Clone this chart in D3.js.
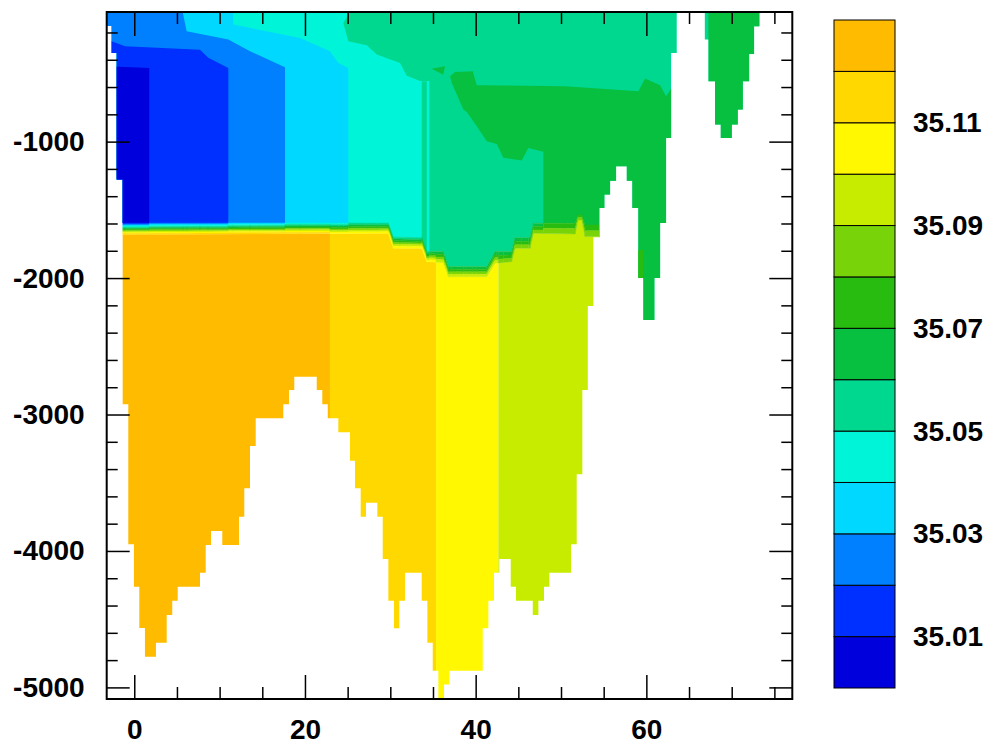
<!DOCTYPE html>
<html>
<head>
<meta charset="utf-8">
<script src="https://cdn.jsdelivr.net/npm/d3@7"></script>
<style>
body { margin: 0; background: #fff; }
text { font-family: "Liberation Sans", Arial, sans-serif; font-weight: bold; font-size: 28px; fill: #000; }
</style>
</head>
<body>
<div id="chartDiv"></div>
<script>

// salinity classes (colour bar)
var salinityLevels = [35.00, 35.01, 35.02, 35.03, 35.04, 35.05, 35.06, 35.07, 35.08, 35.09, 35.10, 35.11, 35.12, 35.13];
var bandColors = ["#0000DD", "#0030FF", "#0080FF", "#00D8FF", "#00F5D8", "#00D890", "#08C040",
                  "#28BC10", "#78D408", "#C8EC00", "#FFF800", "#FFD800", "#FFBB00"];
var colorbarTicks = [35.01, 35.03, 35.05, 35.07, 35.09, 35.11];
var xTicks = [0, 20, 40, 60];
var yTicks = [-1000, -2000, -3000, -4000, -5000];

// sea floor: [x where step starts, bottom depth] (null = no water)
var seafloor = [
  [-3.23, -152], [-2.65, -350], [-2.06, -1278], [-1.36, -2925], [-0.70, -3950], [-0.04, -4262],
  [0.59, -4565], [1.25, -4776], [2.54, -4673], [3.80, -4470], [4.45, -4365], [5.09, -4262],
  [7.70, -4160], [8.37, -3957], [8.99, -3854], [10.31, -3957], [12.27, -3750], [12.89, -3541],
  [13.56, -3231], [14.23, -3028], [17.46, -2925], [18.13, -2820], [18.75, -2723], [21.38, -2820],
  [22.03, -2925], [22.67, -3028], [23.91, -3130], [25.28, -3339], [25.86, -3541], [26.53, -3750],
  [27.15, -3646], [28.48, -3750], [29.11, -4059], [29.77, -4365], [30.43, -4567], [31.06, -4365],
  [31.72, -4160], [33.68, -4365], [34.34, -4673], [34.97, -4878], [35.63, -5085], [36.29, -4978],
  [36.92, -4878], [40.83, -4567], [41.49, -4365], [42.15, -4160], [42.78, -4059], [44.11, -4262],
  [44.73, -4365], [46.69, -4470], [47.35, -4365], [48.01, -4262], [48.63, -4160], [51.18, -3951],
  [51.84, -3438], [52.50, -2820], [53.14, -2204], [53.79, -1700], [54.49, -1486], [55.08, -1388],
  [55.75, -1286], [56.45, -1180], [57.71, -1286], [58.36, -1486], [59.06, -1999], [59.65, -2307],
  [60.94, -1999], [61.61, -1596], [62.31, -973], [62.90, -350], [63.56, null], [66.85, -252],
  [67.27, -557], [68.05, -875], [68.72, -973], [70.01, -875], [70.71, -765], [71.30, -557],
  [72.04, -357], [72.62, -154], [73.24, null]
];

// interface between upper and deep water: [x, bottom of upper layer, top of deep layer]
var layerInterface = [
  [-3.23, -1596, -1682], [29.77, -1596, -1672], [30.35, -1699, -1781], [33.68, -1704, -1781],
  [34.27, -1806, -1880], [36.21, -1806, -1886], [36.80, -1916, -1990], [41.30, -1916, -1990],
  [42.27, -1806, -1891], [44.21, -1806, -1880], [44.61, -1704, -1781], [46.37, -1704, -1781],
  [46.76, -1598, -1672], [51.65, -1598, -1677], [52.00, -1537, -1574], [52.43, -1537, -1574],
  [52.82, -1611, -1696], [54.45, -1611, -1696], [54.50, -5085, -5085], [77.10, -5085, -5085]
];

// deep layer: [x0, x1, salinity]
var deepStrips = [
  [-3.23, 22.93, 35.125], [22.93, 35.36, 35.115], [35.36, 42.66, 35.105], [42.66, 60.0, 35.095]
];

// upper layer: water left of/below each front line has the given salinity
var upperBase = 35.055;
var upperFronts = [
  {salinity: 35.045, line: [[25.28, -50], [24.49, -130], [25.08, -264], [27.24, -293], [28.41, -362], [31.14, -423], [31.92, -518], [33.48, -555], [34.57, -555], [34.57, -5085]]},
  {salinity: 35.035, line: [[11.60, -50], [11.60, -142], [19.42, -240], [22.93, -337], [23.91, -423], [25.08, -460], [25.08, -5085]]},
  {salinity: 35.025, line: [[5.67, -50], [6.14, -191], [11.02, -252], [13.56, -337], [17.66, -455], [17.66, -5085]]},
  {salinity: 35.015, line: [[-3.23, -250], [-2.65, -264], [-1.09, -301], [7.70, -326], [8.67, -386], [11.02, -460], [11.02, -5085]]},
  {salinity: 35.005, line: [[-3.23, -447], [1.76, -460], [1.76, -5085]]}
];

// upper layer patches
var upperPatches = [
  {salinity: 35.065, outline: [[37.00, -521], [37.58, -489], [39.66, -484], [40.13, -586], [50.47, -594], [59.06, -630], [59.85, -538], [61.61, -586], [62.31, -667], [62.90, -611], [64.0, -611], [64.0, -5085], [47.93, -5085], [47.93, -1075], [46.17, -1046], [45.40, -1139], [43.24, -1119], [42.47, -1017], [41.30, -997], [40.13, -887], [38.95, -782], [38.56, -765], [37.20, -570]]},
  {salinity: 35.065, outline: [[34.85, -465], [36.41, -447], [36.21, -509]]},
  {salinity: 35.065, outline: [[67.27, -50], [74.0, -50], [74.0, -5085], [67.27, -5085]]},
  {salinity: 35.075, outline: [[58.99, -1794], [59.65, -1794], [59.65, -2010], [58.99, -2010]]},
  {salinity: 35.055, outline: [[33.68, -557], [34.27, -557], [34.27, -5085], [33.68, -5085]]}
];

var svg = d3.select("#chartDiv").append("svg").attr("width", 988).attr("height", 744);

var plot = {left: 106.7, right: 792.3, top: 12, bottom: 699};
var xMin = -3.23, xMax = 77.1, dTop = -50, dBottom = -5085;

var x_scale = d3.scaleLinear().domain([xMin, xMax]).range([plot.left, plot.right]);
var y_scale = d3.scaleLinear().domain([dBottom, dTop]).range([plot.bottom, plot.top]);
var colour = d3.scaleThreshold().domain(salinityLevels.slice(1, -1)).range(bandColors);
var thresholds = salinityLevels.slice(1, -1);

var line = d3.line().x(function(d){ return x_scale(d[0]); }).y(function(d){ return y_scale(d[1]); });
function polyPath(pts){ return line(pts) + "Z"; }

// interface as piecewise linear functions
var upperBottom = d3.scaleLinear().domain(layerInterface.map(function(d){ return d[0]; })).range(layerInterface.map(function(d){ return d[1]; }));
var deepTop = d3.scaleLinear().domain(layerInterface.map(function(d){ return d[0]; })).range(layerInterface.map(function(d){ return d[2]; }));

// clip paths
var defs = svg.append("defs");
var waterPts = [[xMin, dTop]];
seafloor.forEach(function(d, i){
  var x1 = i + 1 < seafloor.length ? seafloor[i + 1][0] : xMax;
  var dep = d[1] === null ? dTop : d[1];
  waterPts.push([d[0], dep], [x1, dep]);
});
waterPts.push([xMax, dTop]);
defs.append("clipPath").attr("id", "water").append("path").attr("d", polyPath(waterPts));

var upperPts = [[xMin, dTop]].concat(layerInterface.map(function(d){ return [d[0], d[1]]; }), [[xMax, dTop]]);
defs.append("clipPath").attr("id", "upper").append("path").attr("d", polyPath(upperPts));
var deepPts = [[xMin, dBottom]].concat(layerInterface.map(function(d){ return [d[0], d[2]]; }), [[xMax, dBottom]]);
defs.append("clipPath").attr("id", "deep").append("path").attr("d", polyPath(deepPts));

var water = svg.append("g").attr("clip-path", "url(#water)");

// upper layer
var upperG = water.append("g").attr("clip-path", "url(#upper)");
var upperShapes = [{salinity: upperBase, outline: [[xMin, dTop], [xMax, dTop], [xMax, dBottom], [xMin, dBottom]]}];
upperFronts.forEach(function(f){
  var last = f.line[f.line.length - 1];
  upperShapes.push({salinity: f.salinity, outline: [[xMin, f.line[0][1]]].concat(f.line, [[xMin, last[1]]])});
});
upperPatches.forEach(function(p){ upperShapes.push(p); });

upperG.selectAll("path").data(upperShapes).enter().append("path")
  .attr("d", function(d){ return polyPath(d.outline); })
  .attr("fill", function(d){ return colour(d.salinity); });

// deep layer
var deepG = water.append("g").attr("clip-path", "url(#deep)");
deepG.selectAll("rect").data(deepStrips).enter().append("rect")
  .attr("x", function(d){ return x_scale(d[0]); })
  .attr("width", function(d){ return x_scale(d[1]) - x_scale(d[0]); })
  .attr("y", y_scale(dTop))
  .attr("height", y_scale(dBottom) - y_scale(dTop))
  .attr("fill", function(d){ return colour(d[2]); });

// thin transition bands between the two layers
function upperSalinityAt(x, dep){
  var s = upperBase;
  upperShapes.forEach(function(sh){ if (d3.polygonContains(sh.outline, [x, dep])) s = sh.salinity; });
  return s;
}
function deepSalinityAt(x){
  var s = deepStrips[deepStrips.length - 1][2];
  deepStrips.forEach(function(d){ if (x >= d[0] && x < d[1]) s = d[2]; });
  return s;
}
var breaks = [];
layerInterface.forEach(function(d){ breaks.push(d[0]); });
deepStrips.forEach(function(d){ breaks.push(d[0], d[1]); });
upperShapes.forEach(function(sh){ sh.outline.forEach(function(p){ breaks.push(p[0]); }); });
breaks = Array.from(new Set(breaks)).filter(function(v){ return v >= xMin && v <= 54.45; }).sort(d3.ascending);

var stripes = [];
for (var i = 0; i < breaks.length - 1; i++) {
  var xa = breaks[i], xb = breaks[i + 1];
  if (xb - xa < 1e-6) continue;
  var xm = (xa + xb) / 2;
  var ub = d3.bisect(thresholds, upperSalinityAt(xm, upperBottom(xm) + 3));
  var lb = d3.bisect(thresholds, deepSalinityAt(xm));
  var n = lb - ub - 1;
  for (var k = 1; k <= n; k++) {
    var t0 = (k - 1) / n, t1 = k / n;
    var ua = upperBottom(xa), ubb = upperBottom(xb), la = deepTop(xa), lbb = deepTop(xb);
    stripes.push({band: ub + k, pts: [
      [xa, ua + t0 * (la - ua)], [xb, ubb + t0 * (lbb - ubb)],
      [xb, ubb + t1 * (lbb - ubb)], [xa, ua + t1 * (la - ua)]
    ]});
  }
}
water.append("g").selectAll("path").data(stripes).enter().append("path")
  .attr("d", function(d){ return polyPath(d.pts); })
  .attr("fill", function(d){ return bandColors[d.band]; })
  .attr("stroke", function(d){ return bandColors[d.band]; })
  .attr("stroke-width", 0.4);

// axes
function tickStyle(g){
  g.select(".domain").remove();
  g.selectAll("line").attr("stroke", "#000").attr("stroke-width", 1.5);
}
var minorY = d3.range(-200, -5001, -200).filter(function(v){ return v % 1000 !== 0; });
var minorX = d3.range(5, 77, 5).filter(function(v){ return v % 20 !== 0; });

svg.append("g").attr("transform", "translate(" + plot.left + ",0)")
  .call(d3.axisLeft(y_scale).tickValues(yTicks).tickSizeInner(-23).tickSizeOuter(0).tickPadding(22).tickFormat(function(d){ return String(d); }))
  .call(tickStyle);
svg.append("g").attr("transform", "translate(" + plot.left + ",0)")
  .call(d3.axisLeft(y_scale).tickValues(minorY).tickSizeInner(-11).tickSizeOuter(0).tickFormat(""))
  .call(tickStyle);
svg.append("g").attr("transform", "translate(" + plot.right + ",0)")
  .call(d3.axisRight(y_scale).tickValues(yTicks).tickSizeInner(-23).tickSizeOuter(0).tickFormat(""))
  .call(tickStyle);
svg.append("g").attr("transform", "translate(" + plot.right + ",0)")
  .call(d3.axisRight(y_scale).tickValues(minorY).tickSizeInner(-11).tickSizeOuter(0).tickFormat(""))
  .call(tickStyle);

svg.append("g").attr("transform", "translate(0," + plot.bottom + ")")
  .call(d3.axisBottom(x_scale).tickValues(xTicks).tickSizeInner(-24).tickSizeOuter(0).tickPadding(20).tickFormat(function(d){ return String(d); }))
  .call(tickStyle);
svg.append("g").attr("transform", "translate(0," + plot.bottom + ")")
  .call(d3.axisBottom(x_scale).tickValues(minorX).tickSizeInner(-12).tickSizeOuter(0).tickFormat(""))
  .call(tickStyle);
svg.append("g").attr("transform", "translate(0," + plot.top + ")")
  .call(d3.axisTop(x_scale).tickValues(xTicks).tickSizeInner(-24).tickSizeOuter(0).tickFormat(""))
  .call(tickStyle);
svg.append("g").attr("transform", "translate(0," + plot.top + ")")
  .call(d3.axisTop(x_scale).tickValues(minorX).tickSizeInner(-12).tickSizeOuter(0).tickFormat(""))
  .call(tickStyle);

svg.append("rect")
  .attr("x", plot.left).attr("y", plot.top)
  .attr("width", plot.right - plot.left).attr("height", plot.bottom - plot.top)
  .attr("fill", "none").attr("stroke", "#000").attr("stroke-width", 2);

// colour bar
var cb = {left: 834, right: 895, top: 20, bottom: 688};
var cb_scale = d3.scaleLinear().domain([salinityLevels[0], salinityLevels[salinityLevels.length - 1]]).range([cb.bottom, cb.top]);
svg.append("g").selectAll("rect").data(bandColors).enter().append("rect")
  .attr("x", cb.left)
  .attr("width", cb.right - cb.left)
  .attr("y", function(d, i){ return cb_scale(salinityLevels[i + 1]); })
  .attr("height", function(d, i){ return cb_scale(salinityLevels[i]) - cb_scale(salinityLevels[i + 1]); })
  .attr("fill", function(d){ return d; })
  .attr("stroke", "#000").attr("stroke-width", 1);

svg.append("g").attr("transform", "translate(" + cb.right + ",0)")
  .call(d3.axisRight(cb_scale).tickValues(colorbarTicks).tickSize(0).tickPadding(18).tickFormat(d3.format(".2f")))
  .call(function(g){ g.select(".domain").remove(); });

</script>
</body>
</html>
